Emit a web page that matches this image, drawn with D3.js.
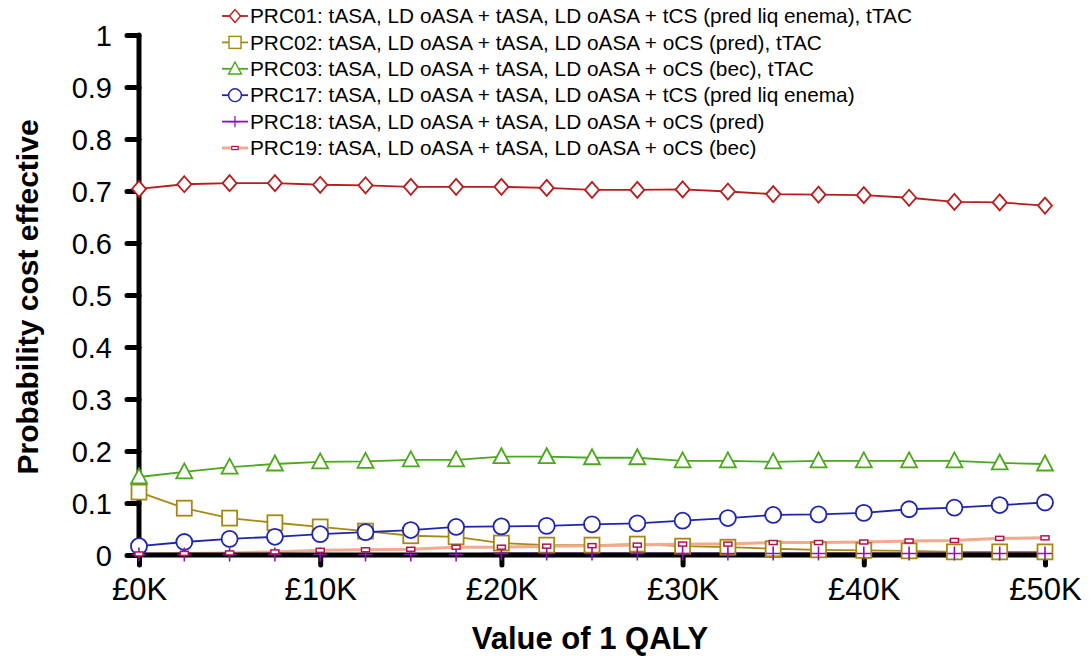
<!DOCTYPE html>
<html>
<head>
<meta charset="utf-8">
<script src="https://cdn.jsdelivr.net/npm/d3@7/dist/d3.min.js"></script>
<style>
  html, body { margin: 0; padding: 0; background: #fff; }
  svg { display: block; font-family: "Liberation Sans", Arial, sans-serif; }
</style>
</head>
<body>
<svg id="chart" width="1089" height="656"></svg>
<script>
// Willingness-to-pay values (£ per QALY), every £2,500 from £0 to £50,000
const wtp = [0, 2500, 5000, 7500, 10000, 12500, 15000, 17500, 20000, 22500, 25000,
             27500, 30000, 32500, 35000, 37500, 40000, 42500, 45000, 47500, 50000];

const seriesNames = [
  "PRC01: tASA, LD oASA + tASA, LD oASA + tCS (pred liq enema), tTAC",
  "PRC02: tASA, LD oASA + tASA, LD oASA + oCS (pred), tTAC",
  "PRC03: tASA, LD oASA + tASA, LD oASA + oCS (bec), tTAC",
  "PRC17: tASA, LD oASA + tASA, LD oASA + tCS (pred liq enema)",
  "PRC18: tASA, LD oASA + tASA, LD oASA + oCS (pred)",
  "PRC19: tASA, LD oASA + tASA, LD oASA + oCS (bec)"
];

const prc01 = [0.704, 0.713, 0.715, 0.715, 0.712, 0.711, 0.708, 0.708, 0.708, 0.706, 0.702,
               0.702, 0.703, 0.699, 0.694, 0.693, 0.692, 0.687, 0.679, 0.678, 0.672];
const prc02 = [0.121, 0.090, 0.071, 0.062, 0.054, 0.046, 0.037, 0.035, 0.023, 0.019, 0.019,
               0.021, 0.017, 0.015, 0.012, 0.010, 0.009, 0.008, 0.006, 0.006, 0.006];
const prc03 = [0.150, 0.160, 0.169, 0.175, 0.179, 0.180, 0.183, 0.183, 0.189, 0.189, 0.187,
               0.187, 0.181, 0.181, 0.179, 0.181, 0.181, 0.181, 0.181, 0.177, 0.175];
const prc17 = [0.017, 0.025, 0.031, 0.035, 0.040, 0.044, 0.048, 0.054, 0.055, 0.056, 0.059,
               0.061, 0.066, 0.071, 0.077, 0.078, 0.081, 0.088, 0.091, 0.096, 0.101];
const prc18 = [0.001, 0.001, 0.001, 0.001, 0.001, 0.001, 0.001, 0.001, 0.003, 0.003, 0.003,
               0.003, 0.003, 0.003, 0.003, 0.003, 0.003, 0.003, 0.003, 0.003, 0.003];
const prc19 = [0.002, 0.003, 0.004, 0.006, 0.009, 0.010, 0.011, 0.015, 0.015, 0.017, 0.018,
               0.019, 0.021, 0.021, 0.024, 0.024, 0.025, 0.027, 0.028, 0.032, 0.033];

const yTicks = [0, 0.1, 0.2, 0.3, 0.4, 0.5, 0.6, 0.7, 0.8, 0.9, 1];
const xTicks = [0, 10000, 20000, 30000, 40000, 50000];
const xTickLabels = ["£0K", "£10K", "£20K", "£30K", "£40K", "£50K"];

const svg = d3.select("#chart");
const plot = { left: 139, right: 1045, top: 35, bottom: 555 };

const x = d3.scaleLinear().domain([0, 50000]).range([plot.left, plot.right]);
const y = d3.scaleLinear().domain([0, 1]).range([plot.bottom, plot.top]);

// Series styling: line colour, marker type, marker colour
const series = [
  { name: seriesNames[0], values: prc01, line: "#b81c1c", marker: "diamond", mcol: "#b81c1c", lw: 1.8 },
  { name: seriesNames[1], values: prc02, line: "#a88812", marker: "square", mcol: "#a88812", lw: 1.8 },
  { name: seriesNames[2], values: prc03, line: "#4aa81a", marker: "triangle", mcol: "#4aa81a", lw: 1.8 },
  { name: seriesNames[3], values: prc17, line: "#1f24b0", marker: "circle", mcol: "#1f24b0", lw: 1.8 },
  { name: seriesNames[4], values: prc18, line: "#8a14b4", marker: "plus", mcol: "#8a14b4", lw: 1.8 },
  { name: seriesNames[5], values: prc19, line: "#f4a88c", marker: "dash", mcol: "#b3124f", lw: 3 }
];

function drawMarker(g, type, color) {
  switch (type) {
    case "diamond":
      g.append("path").attr("d", "M0,-8L7,0L0,8L-7,0Z")
        .attr("fill", "#fff").attr("stroke", color).attr("stroke-width", 1.8);
      break;
    case "square":
      g.append("rect").attr("x", -7.5).attr("y", -7.5).attr("width", 15).attr("height", 15)
        .attr("fill", "#fff").attr("stroke", color).attr("stroke-width", 1.8);
      break;
    case "triangle":
      g.append("path").attr("d", "M0,-8.5L8,6.5L-8,6.5Z")
        .attr("fill", "#fff").attr("stroke", color).attr("stroke-width", 1.8);
      break;
    case "circle":
      g.append("circle").attr("r", 8)
        .attr("fill", "#fff").attr("stroke", color).attr("stroke-width", 1.8);
      break;
    case "plus":
      g.append("path").attr("d", "M0,-7V7M-7,0H7")
        .attr("fill", "none").attr("stroke", color).attr("stroke-width", 1.6);
      break;
    case "dash":
      g.append("rect").attr("x", -4).attr("y", -2).attr("width", 8).attr("height", 4)
        .attr("fill", "#fff").attr("stroke", color).attr("stroke-width", 1.5);
      break;
  }
}

// Series lines
const line = d3.line().x((d, i) => x(wtp[i])).y(d => y(d));

series.forEach(s => {
  svg.append("path").datum(s.values)
    .attr("d", line)
    .attr("fill", "none")
    .attr("stroke", s.line)
    .attr("stroke-width", s.lw);
});

// Axes
const yAxis = d3.axisLeft(y).tickValues(yTicks).tickFormat(d3.format("~g")).tickSize(12).tickPadding(15);
const xAxis = d3.axisBottom(x).tickValues(xTicks).tickFormat((d, i) => xTickLabels[i]).tickSize(10).tickPadding(13);

const gy = svg.append("g").attr("transform", `translate(${plot.left},0)`).call(yAxis);
const gx = svg.append("g").attr("transform", `translate(0,${plot.bottom})`).call(xAxis);

[gy, gx].forEach(g => {
  g.select(".domain").attr("stroke", "#000").attr("stroke-width", 5).attr("stroke-linecap", "round");
  g.selectAll(".tick line").attr("stroke", "#000").attr("stroke-width", 5).attr("stroke-linecap", "round");
  g.selectAll(".tick text").attr("fill", "#000")
    .style("font-family", "'Liberation Sans', Arial, sans-serif");
});
gy.selectAll(".tick text").style("font-size", "29px").attr("dy", "0.35em");
gx.selectAll(".tick text").style("font-size", "31px");
gy.select(".domain").attr("d", `M0,${plot.top}V${plot.bottom}`);
gx.select(".domain").attr("d", `M${plot.left},0H${plot.right}`);

// Markers drawn above the axes
series.forEach(s => {
  s.values.forEach((v, i) => {
    const g = svg.append("g").attr("transform", `translate(${x(wtp[i])},${y(v)})`);
    drawMarker(g, s.marker, s.mcol);
  });
});

// Axis titles
svg.append("text")
  .attr("transform", `translate(38,297) rotate(-90)`)
  .attr("text-anchor", "middle")
  .style("font-size", "30px").style("font-weight", "bold")
  .text("Probability cost effective");

svg.append("text")
  .attr("x", 590)
  .attr("y", 649)
  .attr("text-anchor", "middle")
  .style("font-size", "31px").style("font-weight", "bold")
  .text("Value of 1 QALY");

// Legend
const legend = svg.append("g");
series.forEach((s, i) => {
  const ly = 16 + i * 26.4;
  const g = legend.append("g").attr("transform", `translate(235,${ly})`);
  g.append("line").attr("x1", -13).attr("x2", 13).attr("y1", 0).attr("y2", 0)
    .attr("stroke", s.line).attr("stroke-width", s.lw);
  const mg = g.append("g").attr("transform", "scale(0.8)");
  drawMarker(mg, s.marker, s.mcol);
  g.append("text").attr("x", 15).attr("y", 0).attr("dy", "0.35em")
    .style("font-size", "20.8px").attr("fill", "#000").text(s.name);
});
</script>
</body>
</html>
